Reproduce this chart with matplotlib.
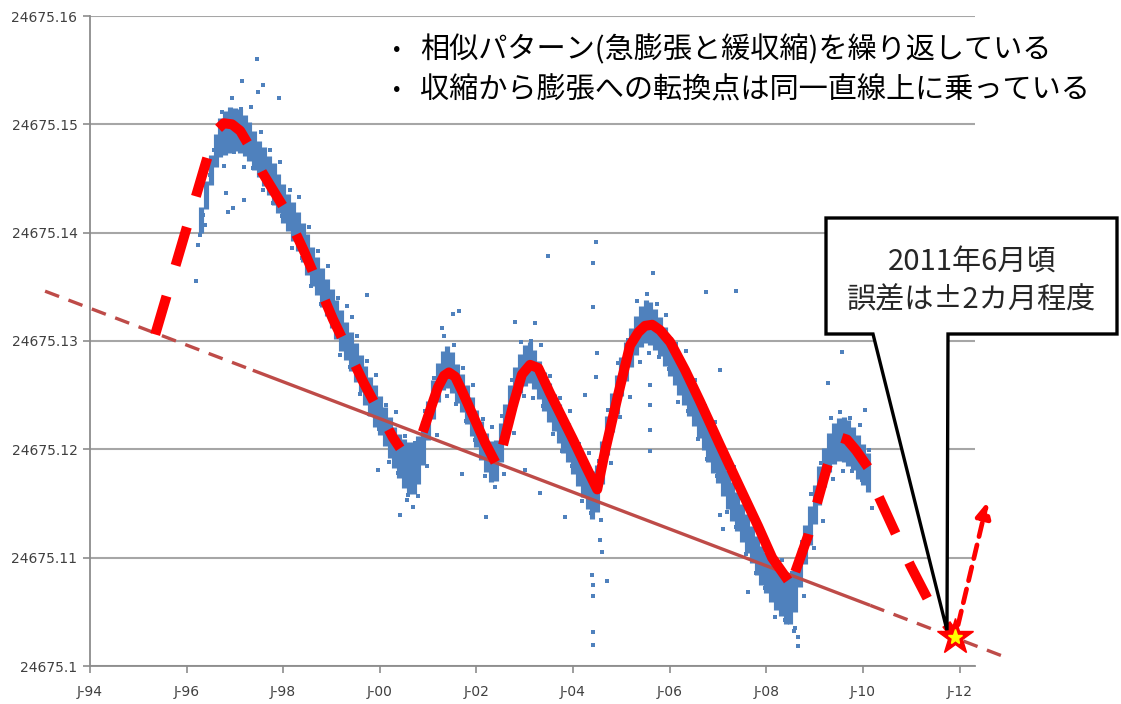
import numpy as np
import matplotlib
matplotlib.use("Agg")
import matplotlib.pyplot as plt
from matplotlib.patches import Polygon

plt.rcParams["font.family"] = ["DejaVu Sans"]
JP = ["Noto Sans CJK JP", "DejaVu Sans"]

# ---- values (x in decimal years) ----
# dense core of the measurement cloud: centre and half height per column
core_t = [1996.3, 1996.4, 1996.5, 1996.6, 1996.7, 1996.8, 1996.9, 1997.0, 1997.1, 1997.2,
          1997.3, 1997.4, 1997.5, 1997.6, 1997.7, 1997.8, 1997.9, 1998.0, 1998.1, 1998.2,
          1998.3, 1998.4, 1998.5, 1998.6, 1998.7, 1998.8, 1998.9, 1999.0, 1999.1, 1999.2,
          1999.3, 1999.4, 1999.5, 1999.6, 1999.7, 1999.8, 1999.9, 2000.0, 2000.1, 2000.2,
          2000.3, 2000.4, 2000.5, 2000.6, 2000.7, 2000.8, 2000.9, 2001.0, 2001.1, 2001.2,
          2001.3, 2001.4, 2001.5, 2001.6, 2001.7, 2001.8, 2001.9, 2002.0, 2002.1, 2002.2,
          2002.3, 2002.4, 2002.5, 2002.6, 2002.7, 2002.8, 2002.9, 2003.0, 2003.1, 2003.2,
          2003.3, 2003.4, 2003.5, 2003.6, 2003.7, 2003.8, 2003.9, 2004.0, 2004.1, 2004.2,
          2004.3, 2004.4, 2004.5, 2004.6, 2004.7, 2004.8, 2004.9, 2005.0, 2005.1, 2005.2,
          2005.3, 2005.4, 2005.5, 2005.6, 2005.7, 2005.8, 2005.9, 2006.0, 2006.1, 2006.2,
          2006.3, 2006.4, 2006.5, 2006.6, 2006.7, 2006.8, 2006.9, 2007.0, 2007.1, 2007.2,
          2007.3, 2007.4, 2007.5, 2007.6, 2007.7, 2007.8, 2007.9, 2008.0, 2008.1, 2008.2,
          2008.3, 2008.4, 2008.5, 2008.6, 2008.7, 2008.8, 2008.9, 2009.0, 2009.1, 2009.2,
          2009.3, 2009.4, 2009.5, 2009.6, 2009.7, 2009.8, 2009.9, 2010.0, 2010.1]
core_mid = [24675.1412, 24675.1435, 24675.1458, 24675.1476, 24675.1488, 24675.1492, 24675.1495, 24675.1495, 24675.1494, 24675.1490,
            24675.1484, 24675.1476, 24675.1468, 24675.1461, 24675.1453, 24675.1445, 24675.1436, 24675.1427, 24675.1419, 24675.1410,
            24675.1401, 24675.1391, 24675.1380, 24675.1369, 24675.1360, 24675.1349, 24675.1340, 24675.1330, 24675.1320, 24675.1310,
            24675.1300, 24675.1290, 24675.1280, 24675.1270, 24675.1259, 24675.1249, 24675.1240, 24675.1231, 24675.1221, 24675.1211,
            24675.1202, 24675.1194, 24675.1187, 24675.1183, 24675.1183, 24675.1190, 24675.1206, 24675.1227, 24675.1246, 24675.1262,
            24675.1273, 24675.1276, 24675.1271, 24675.1261, 24675.1252, 24675.1241, 24675.1230, 24675.1219, 24675.1208, 24675.1197,
            24675.1189, 24675.1190, 24675.1206, 24675.1224, 24675.1241, 24675.1258, 24675.1270, 24675.1277, 24675.1280, 24675.1274,
            24675.1264, 24675.1253, 24675.1243, 24675.1234, 24675.1224, 24675.1215, 24675.1206, 24675.1195, 24675.1185, 24675.1175,
            24675.1165, 24675.1158, 24675.1164, 24675.1188, 24675.1213, 24675.1234, 24675.1251, 24675.1267, 24675.1281, 24675.1294,
            24675.1305, 24675.1313, 24675.1318, 24675.1316, 24675.1311, 24675.1304, 24675.1295, 24675.1286, 24675.1277, 24675.1268,
            24675.1259, 24675.1249, 24675.1239, 24675.1228, 24675.1217, 24675.1206, 24675.1196, 24675.1186, 24675.1175, 24675.1163,
            24675.1152, 24675.1143, 24675.1132, 24675.1122, 24675.1112, 24675.1102, 24675.1093, 24675.1086, 24675.1078, 24675.1071,
            24675.1066, 24675.1061, 24675.1061, 24675.1070, 24675.1091, 24675.1112, 24675.1130, 24675.1149, 24675.1167, 24675.1183,
            24675.1197, 24675.1205, 24675.1209, 24675.1209, 24675.1206, 24675.1201, 24675.1193, 24675.1186, 24675.1179]
core_half = [0.0012, 0.0013, 0.0014, 0.0015, 0.0018, 0.0020, 0.0021, 0.0020, 0.0020, 0.0019,
             0.0018, 0.0018, 0.0017, 0.0018, 0.0018, 0.0019, 0.0018, 0.0018, 0.0017, 0.0018,
             0.0018, 0.0018, 0.0019, 0.0018, 0.0018, 0.0018, 0.0017, 0.0018, 0.0018, 0.0019,
             0.0018, 0.0018, 0.0018, 0.0017, 0.0018, 0.0018, 0.0019, 0.0018, 0.0018, 0.0019,
             0.0019, 0.0020, 0.0023, 0.0024, 0.0024, 0.0022, 0.0020, 0.0018, 0.0018, 0.0018,
             0.0018, 0.0019, 0.0019, 0.0018, 0.0018, 0.0018, 0.0018, 0.0017, 0.0018, 0.0018,
             0.0019, 0.0019, 0.0018, 0.0018, 0.0018, 0.0018, 0.0018, 0.0019, 0.0019, 0.0018,
             0.0018, 0.0018, 0.0018, 0.0017, 0.0018, 0.0018, 0.0018, 0.0018, 0.0019, 0.0019,
             0.0020, 0.0022, 0.0022, 0.0020, 0.0018, 0.0018, 0.0018, 0.0018, 0.0018, 0.0018,
             0.0018, 0.0019, 0.0020, 0.0020, 0.0019, 0.0018, 0.0018, 0.0018, 0.0018, 0.0018,
             0.0018, 0.0018, 0.0017, 0.0018, 0.0018, 0.0018, 0.0018, 0.0017, 0.0018, 0.0018,
             0.0018, 0.0018, 0.0018, 0.0018, 0.0017, 0.0018, 0.0018, 0.0019, 0.0019, 0.0019,
             0.0020, 0.0022, 0.0022, 0.0020, 0.0018, 0.0018, 0.0018, 0.0018, 0.0018, 0.0018,
             0.0018, 0.0019, 0.0020, 0.0021, 0.0021, 0.0020, 0.0020, 0.0019, 0.0018]

# loose points along the upper and lower edge of the cloud
upper_t = [1996.73, 1996.93, 1997.13, 1997.33, 1997.53, 1997.73, 1997.93, 1998.13, 1998.33, 1998.53,
           1998.73, 1998.93, 1999.13, 1999.33, 1999.53, 1999.73, 1999.93, 2000.13, 2000.33, 2000.53,
           2000.73, 2000.93, 2001.13, 2001.33, 2001.53, 2001.73, 2001.93, 2002.13, 2002.33, 2002.53,
           2002.73, 2002.93, 2003.13, 2003.33, 2003.53, 2003.73, 2003.93, 2004.13, 2004.33, 2004.53,
           2004.73, 2004.93, 2005.13, 2005.33, 2005.53, 2005.73, 2005.93, 2006.13, 2006.33, 2006.53,
           2006.73, 2006.93, 2007.13, 2007.33, 2007.53, 2007.73, 2007.93, 2008.13, 2008.33, 2008.53,
           2008.73, 2008.93, 2009.13, 2009.33, 2009.53, 2009.73, 2009.93, 2010.13]
upper_v = [24675.1511, 24675.1524, 24675.1514, 24675.1516, 24675.1493, 24675.1476, 24675.1465, 24675.1439, 24675.1433, 24675.1405,
           24675.1383, 24675.1369, 24675.1340, 24675.1332, 24675.1305, 24675.1282, 24675.1269, 24675.1241, 24675.1234, 24675.1212,
           24675.1206, 24675.1235, 24675.1266, 24675.1305, 24675.1296, 24675.1275, 24675.1259, 24675.1228, 24675.1221, 24675.1231,
           24675.1264, 24675.1299, 24675.1300, 24675.1296, 24675.1268, 24675.1247, 24675.1235, 24675.1205, 24675.1197, 24675.1189,
           24675.1236, 24675.1280, 24675.1301, 24675.1337, 24675.1343, 24675.1334, 24675.1324, 24675.1297, 24675.1291, 24675.1264,
           24675.1240, 24675.1225, 24675.1195, 24675.1184, 24675.1157, 24675.1135, 24675.1122, 24675.1098, 24675.1098, 24675.1086,
           24675.1114, 24675.1159, 24675.1187, 24675.1229, 24675.1234, 24675.1229, 24675.1222, 24675.1199]
lower_t = [1996.78, 1996.98, 1997.18, 1997.38, 1997.58, 1997.78, 1997.98, 1998.18, 1998.38, 1998.58,
           1998.78, 1998.98, 1999.18, 1999.38, 1999.58, 1999.78, 1999.98, 2000.18, 2000.38, 2000.58,
           2000.78, 2000.98, 2001.18, 2001.38, 2001.58, 2001.78, 2001.98, 2002.18, 2002.38, 2002.58,
           2002.78, 2002.98, 2003.18, 2003.38, 2003.58, 2003.78, 2003.98, 2004.18, 2004.38, 2004.58,
           2004.78, 2004.98, 2005.18, 2005.38, 2005.58, 2005.78, 2005.98, 2006.18, 2006.38, 2006.58,
           2006.78, 2006.98, 2007.18, 2007.38, 2007.58, 2007.78, 2007.98, 2008.18, 2008.38, 2008.58,
           2008.78, 2008.98, 2009.18, 2009.38, 2009.58, 2009.78, 2009.98, 2010.18]
lower_v = [24675.1462, 24675.1474, 24675.1461, 24675.1460, 24675.1439, 24675.1427, 24675.1415, 24675.1386, 24675.1377, 24675.1351,
           24675.1334, 24675.1319, 24675.1287, 24675.1276, 24675.1251, 24675.1233, 24675.1219, 24675.1188, 24675.1178, 24675.1158,
           24675.1157, 24675.1185, 24675.1213, 24675.1249, 24675.1242, 24675.1226, 24675.1209, 24675.1175, 24675.1165, 24675.1177,
           24675.1215, 24675.1249, 24675.1247, 24675.1240, 24675.1214, 24675.1198, 24675.1185, 24675.1152, 24675.1141, 24675.1135,
           24675.1187, 24675.1230, 24675.1248, 24675.1281, 24675.1289, 24675.1285, 24675.1274, 24675.1244, 24675.1235, 24675.1210,
           24675.1191, 24675.1175, 24675.1142, 24675.1128, 24675.1103, 24675.1086, 24675.1072, 24675.1045, 24675.1042, 24675.1032,
           24675.1065, 24675.1109, 24675.1134, 24675.1173, 24675.1180, 24675.1180, 24675.1172, 24675.1146]

# isolated points (start of record, spikes, outliers)
stray_t = [1996.19, 1996.24, 1996.28, 1996.34, 1996.38, 1996.42, 1996.48, 1996.53, 1996.57, 1996.63,
           1996.82, 1996.86, 1996.96, 1997.19, 1997.46, 1997.15, 1997.91, 1997.58, 1997.48,
           1999.73, 1999.42, 2001.52, 2001.64, 2001.29, 2002.80, 2003.21, 2003.48,
           2004.41, 2004.41, 2004.48, 2004.50, 2004.48, 2004.25, 2004.39, 2004.41, 2004.41, 2004.41,
           2004.41, 2004.60, 2004.70, 2004.56,
           2002.20, 2001.70, 2003.01, 2003.32, 2003.83, 2000.56, 2000.69, 2000.42, 1999.96,
           2005.66, 2006.75, 2007.37, 2007.04, 2005.59, 2005.59, 2005.59, 2005.59, 2007.62, 2007.04,
           2007.11, 2008.60, 2008.66, 2008.66, 2009.28, 2009.57, 2010.05]
stray_v = [24675.1355, 24675.1389, 24675.1398, 24675.1416, 24675.1407, 24675.1440, 24675.1453, 24675.1467, 24675.1476, 24675.1486,
           24675.1437, 24675.1419, 24675.1423, 24675.1430, 24675.1560, 24675.1540, 24675.1524, 24675.1536, 24675.1530,
           24675.1342, 24675.1322, 24675.1325, 24675.1328, 24675.1312, 24675.1318, 24675.1317, 24675.1378,
           24675.1372, 24675.1331, 24675.1391, 24675.1289, 24675.1267, 24675.1250, 24675.1084, 24675.1075, 24675.1065, 24675.1031,
           24675.1019, 24675.1105, 24675.1078, 24675.1116,
           24675.1138, 24675.1177, 24675.1181, 24675.1160, 24675.1138, 24675.1153, 24675.1147, 24675.1139, 24675.1181,
           24675.1363, 24675.1345, 24675.1346, 24675.1273, 24675.1198, 24675.1218, 24675.1241, 24675.1259, 24675.1068, 24675.1139,
           24675.1126, 24675.1035, 24675.1027, 24675.1018, 24675.1261, 24675.1290, 24675.1236]

# straight line through the contraction-to-expansion turning points
trend_t = [1993.07, 1997.37, 2010.15, 2012.90]
trend_v = [24675.1346, 24675.1273, 24675.1056, 24675.1009]

# hand-drawn red model curve (dashed / solid / solid / dashed pieces)
red_a_t = [1995.35, 1996.46, 1996.63, 1996.77, 1996.94, 1997.11, 1997.27, 1997.56, 1998.00, 1998.43,
           1999.03, 1999.67, 2000.27, 2000.42]
red_a_v = [24675.1306, 24675.1474, 24675.1495, 24675.1501, 24675.1500, 24675.1494, 24675.1482, 24675.1456, 24675.1424, 24675.1383,
           24675.1320, 24675.1261, 24675.1211, 24675.1201]
red_b1_t = [2000.89, 2001.04, 2001.20, 2001.33, 2001.43, 2001.56, 2001.72, 2001.97, 2002.18, 2002.39]
red_b1_v = [24675.1216, 24675.1236, 24675.1257, 24675.1268, 24675.1271, 24675.1267, 24675.1252, 24675.1227, 24675.1206, 24675.1188]
red_b2_t = [2002.55, 2002.76, 2002.94, 2003.11, 2003.28, 2003.52, 2004.00, 2004.29, 2004.50, 2004.66,
            2004.93, 2005.18, 2005.35, 2005.49, 2005.64, 2005.80, 2006.01, 2006.32, 2006.63, 2007.04,
            2007.46, 2007.83, 2008.12, 2008.45]
red_b2_v = [24675.1204, 24675.1241, 24675.1269, 24675.1278, 24675.1275, 24675.1252, 24675.1209, 24675.1182, 24675.1163, 24675.1198,
            24675.1250, 24675.1296, 24675.1308, 24675.1314, 24675.1315, 24675.1310, 24675.1299, 24675.1273, 24675.1244, 24675.1204,
            24675.1164, 24675.1129, 24675.1100, 24675.1079]
red_c_t = [2008.60, 2008.87, 2009.01, 2009.26, 2009.40, 2009.53, 2009.67, 2009.86, 2010.11, 2010.31,
           2010.67, 2010.98, 2011.35, 2011.87]
red_c_v = [24675.1087, 24675.1121, 24675.1144, 24675.1184, 24675.1203, 24675.1211, 24675.1209, 24675.1199, 24675.1183, 24675.1158,
           24675.1123, 24675.1093, 24675.1061, 24675.1030]

star_t, star_v = 2011.91, 24675.1027
arrow_t = [2011.97, 2012.57]
arrow_v = [24675.1038, 24675.1151]
callout_tip = (2011.74, 24675.1033)

y_ticks = [24675.10, 24675.11, 24675.12, 24675.13, 24675.14, 24675.15, 24675.16]
y_labels = ["24675.1", "24675.11", "24675.12", "24675.13", "24675.14", "24675.15", "24675.16"]
x_ticks = [1994, 1996, 1998, 2000, 2002, 2004, 2006, 2008, 2010, 2012]
x_labels = ["J-94", "J-96", "J-98", "J-00", "J-02", "J-04", "J-06", "J-08", "J-10", "J-12"]

bullets = ["相似パターン(急膨張と緩収縮)を繰り返している",
           "収縮から膨張への転換点は同一直線上に乗っている"]
callout_lines = ["2011年6月頃", "誤差は±2カ月程度"]

BLUE = "#4f81bd"
TREND = "#be4b48"
GRID = "#a6a6a6"

# ---- figure ----
W, H = 1121, 704
fig = plt.figure(figsize=(W / 100, H / 100), dpi=100)
ax = fig.add_axes([90 / W, 38 / H, 885 / W, 650 / H])
ax.set_xlim(1994, 2012.32)
ax.set_ylim(24675.10, 24675.16)

ax.set_yticks(y_ticks)
ax.set_yticklabels(y_labels)
ax.set_xticks(x_ticks)
ax.set_xticklabels(x_labels)
ax.grid(axis="y", color=GRID, lw=1.5)
ax.set_axisbelow(True)
for s in ["top", "right"]:
    ax.spines[s].set_visible(False)
for s in ["left", "bottom"]:
    ax.spines[s].set_color("#8c8c8c")
    ax.spines[s].set_linewidth(1.3)
ax.tick_params(direction="out", length=5, width=1.2, color="#8c8c8c",
               labelsize=10, labelcolor="#404040", pad=4)
ax.tick_params(axis="x", pad=9)

# measurement cloud
mid = np.array(core_mid)
half = np.array(core_half)
ax.vlines(core_t, mid - half, mid + half, colors=BLUE, lw=3.7, zorder=2)
ax.scatter(upper_t + lower_t + stray_t, upper_v + lower_v + stray_v,
           marker="s", s=11, c=BLUE, linewidths=0, zorder=2)

# trend line: dashed - solid - dashed
ax.plot(trend_t[0:2], trend_v[0:2], color=TREND, lw=2.4, ls=(0, (4.5, 3)),
        clip_on=False, zorder=3)
ax.plot(trend_t[1:3], trend_v[1:3], color=TREND, lw=2.4, solid_capstyle="butt", zorder=3)
ax.plot(trend_t[2:4], trend_v[2:4], color=TREND, lw=2.4, ls=(0, (4.5, 3)),
        clip_on=False, zorder=3)

# red model curve
dash = dict(color="red", lw=7.2, ls=(0, (4, 3.2)), dash_capstyle="butt",
            dash_joinstyle="round", clip_on=False, zorder=4)
solid = dict(color="red", lw=7.2, solid_capstyle="butt", solid_joinstyle="round", zorder=4)
ax.plot(red_a_t, red_a_v, **dash)
ax.plot(red_b1_t, red_b1_v, **solid)
ax.plot(red_b2_t, red_b2_v, **solid)
ax.plot(red_c_t, red_c_v, **dash)

# rebound arrow
ax.annotate("", xy=(arrow_t[1], arrow_v[1]), xytext=(arrow_t[0], arrow_v[0]),
            arrowprops=dict(arrowstyle="-|>", color="red", lw=3.4, ls=(0, (3, 1.8)),
                            mutation_scale=22, shrinkA=0, shrinkB=0),
            annotation_clip=False, zorder=5)

# callout box with pointer to the star
tip = ax.transData.transform(callout_tip)
tip = fig.transFigure.inverted().transform(tip)
box = [(826, 218), (1117, 218), (1117, 334), (948, 334), None, (873, 334), (826, 334)]
pts = [tuple(tip) if p is None else (p[0] / W, 1 - p[1] / H) for p in box]
ax.add_patch(Polygon(pts, closed=True, facecolor="white", edgecolor="black", lw=2.4,
                     joinstyle="miter", transform=fig.transFigure, clip_on=False, zorder=6))
for line, y in zip(callout_lines, [263, 300]):
    ax.text(972 / W, 1 - y / H, line, transform=fig.transFigure, ha="center", va="center",
            fontsize=21, color="#262626", family=JP, zorder=8)

ax.plot([star_t], [star_v], marker="*", ms=27, color="red", mec="red",
        clip_on=False, zorder=7)
ax.plot([star_t], [star_v], marker="*", ms=11, color="#ffff00", mec="#ffff00",
        clip_on=False, zorder=7)

# bullet notes
for txt, y in zip(bullets, [50, 90]):
    fig.text(397 / W, 1 - y / H, "•", ha="center", va="center", fontsize=16,
             color="black", family=JP)
    fig.text(420 / W, 1 - y / H, txt, ha="left", va="center", fontsize=21,
             color="black", family=JP)

fig.savefig("out.png", dpi=100)
